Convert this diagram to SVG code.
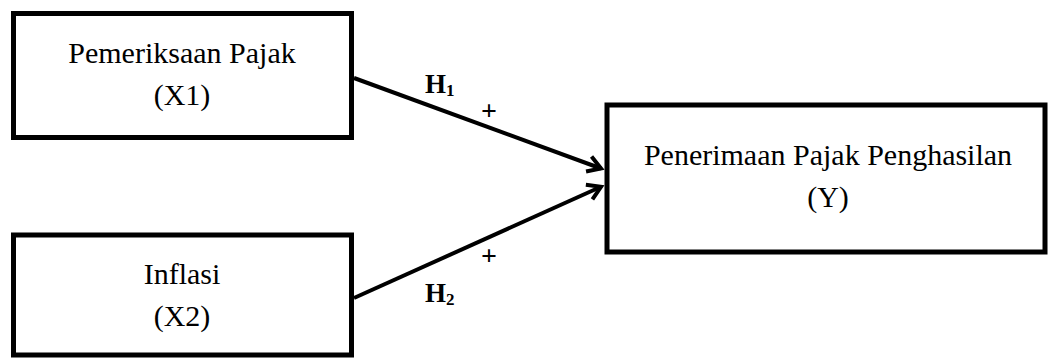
<svg xmlns="http://www.w3.org/2000/svg" width="1049" height="360" viewBox="0 0 1049 360">
  <style>
    .box { fill: #ffffff; stroke: #000000; stroke-width: 5; }
    .lbl { font-family: "Liberation Serif", "Times New Roman", serif; font-size: 30px; fill: #000000; text-anchor: middle; }
    .h { font-family: "Liberation Serif", "Times New Roman", serif; font-size: 27px; font-weight: bold; fill: #000000; }
    .sub { font-size: 17px; }
    .plus { font-family: "Liberation Serif", "Times New Roman", serif; font-size: 28px; font-weight: bold; fill: #000000; text-anchor: middle; }
    .conn { stroke: #000000; stroke-width: 4; fill: none; }
  </style>
  <defs>
    <marker id="arr" markerUnits="userSpaceOnUse" markerWidth="24" markerHeight="24" viewBox="-20 -12 24 24" refX="0" refY="0" orient="auto">
      <path d="M -13 -8 L 0 0 L -13 8" fill="none" stroke="#000000" stroke-width="4" stroke-linejoin="miter"/>
    </marker>
  </defs>
  <rect width="1049" height="360" fill="#ffffff"/>
  <g id="node-x1">
    <rect class="box" x="13.5" y="13.5" width="338" height="124"/>
    <text class="lbl" x="182" y="63">Pemeriksaan Pajak</text>
    <text class="lbl" x="182" y="105">(X1)</text>
  </g>
  <g id="node-x2">
    <rect class="box" x="13.5" y="235" width="338" height="120"/>
    <text class="lbl" x="182" y="284">Inflasi</text>
    <text class="lbl" x="182" y="326">(X2)</text>
  </g>
  <g id="node-y">
    <rect class="box" x="607" y="105" width="438" height="147"/>
    <text class="lbl" x="828" y="165">Penerimaan Pajak Penghasilan</text>
    <text class="lbl" x="828" y="207">(Y)</text>
  </g>
  <g id="connectors">
    <line class="conn" x1="354" y1="78" x2="601" y2="168.5" marker-end="url(#arr)"/>
    <line class="conn" x1="354" y1="298" x2="601" y2="186.8" marker-end="url(#arr)"/>
    <text class="h" x="425" y="93">H<tspan class="sub" dy="3">1</tspan></text>
    <text class="plus" x="489" y="120">+</text>
    <text class="h" x="425" y="302">H<tspan class="sub" dy="3">2</tspan></text>
    <text class="plus" x="489" y="265">+</text>
  </g>
</svg>
